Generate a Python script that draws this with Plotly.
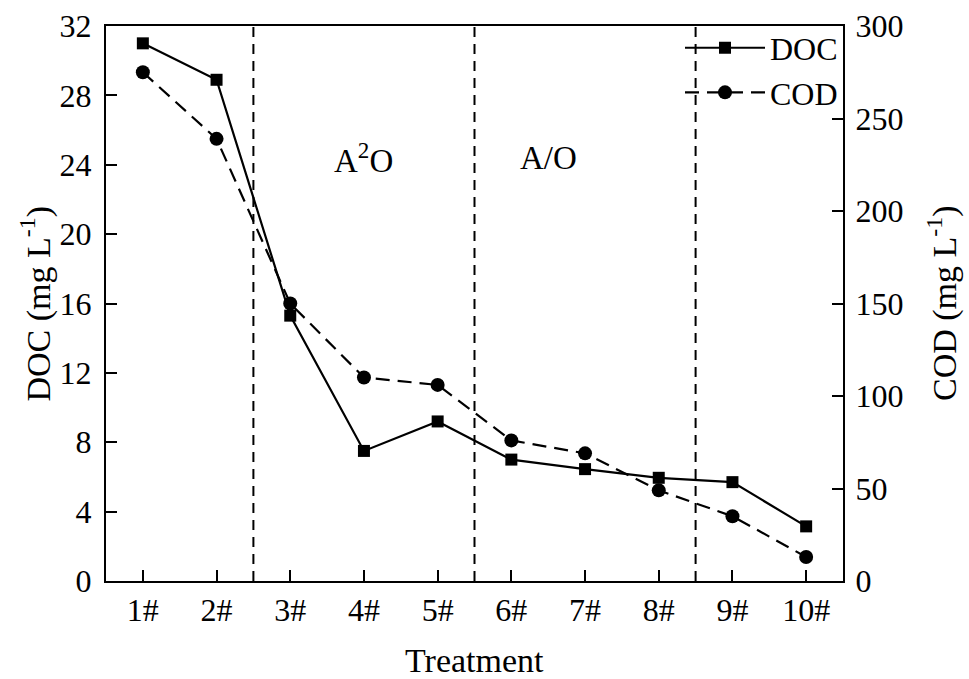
import plotly.graph_objects as go

categories = ["1#", "2#", "3#", "4#", "5#", "6#", "7#", "8#", "9#", "10#"]
positions = [1, 2, 3, 4, 5, 6, 7, 8, 9, 10]
doc_values = [31.0, 28.9, 15.3, 7.5, 9.2, 7.0, 6.45, 5.95, 5.7, 3.15]
cod_values = [275, 239, 150, 110, 106, 76, 69, 49, 35, 13]
dividers = [2.5, 5.5, 8.5]
stage_labels = ["A<sup>2</sup>O", "A/O"]
stage_x = [4, 6.5]
stage_y = [24.4, 24.4]
doc_ticks = [0, 4, 8, 12, 16, 20, 24, 28, 32]
cod_ticks = [0, 50, 100, 150, 200, 250, 300]

FONT = "Liberation Serif, Times New Roman, serif"

fig = go.Figure()
fig.add_trace(go.Scatter(
    x=positions, y=doc_values, name="DOC", mode="lines+markers",
    line=dict(color="black", width=2.2),
    marker=dict(symbol="square", size=12, color="black"),
    yaxis="y",
))
fig.add_trace(go.Scatter(
    x=positions, y=cod_values, name="COD", mode="lines+markers",
    line=dict(color="black", width=2.2, dash="14px,8px"),
    marker=dict(symbol="circle", size=14, color="black"),
    yaxis="y2",
))

for d in dividers:
    fig.add_shape(type="line", xref="x", yref="paper", x0=d, x1=d, y0=0, y1=1,
                  line=dict(color="black", width=2, dash="10px,7px"))

for t, xv, yv in zip(stage_labels, stage_x, stage_y):
    fig.add_annotation(x=xv, y=yv, xref="x", yref="y", text=t, showarrow=False,
                       xanchor="center", yanchor="middle",
                       font=dict(family=FONT, size=33, color="black"))

# axis titles
fig.add_annotation(x=-0.095, y=0.5, xref="paper", yref="paper", textangle=-90,
                   xanchor="center", yanchor="middle",
                   text="DOC (mg L<sup>-1</sup>)", showarrow=False,
                   font=dict(family=FONT, size=34, color="black"))
fig.add_annotation(x=1.135, y=0.5, xref="paper", yref="paper", textangle=-90,
                   xanchor="center", yanchor="middle",
                   text="COD (mg L<sup>-1</sup>)", showarrow=False,
                   font=dict(family=FONT, size=34, color="black"))
fig.add_annotation(x=0.5, y=-0.143, xref="paper", yref="paper",
                   xanchor="center", yanchor="middle",
                   text="Treatment", showarrow=False,
                   font=dict(family=FONT, size=34, color="black"))

fig.update_layout(
    width=969, height=679,
    margin=dict(l=106, r=126, t=26, b=98),
    paper_bgcolor="white", plot_bgcolor="white",
    font=dict(family=FONT, size=32, color="black"),
    showlegend=True,
    legend=dict(x=1, xanchor="right", y=1.01, yanchor="top",
                bgcolor="rgba(0,0,0,0)", font=dict(size=32),
                itemwidth=80, tracegroupgap=0),
    xaxis=dict(
        range=[0.5, 10.5], tickmode="array", tickvals=positions, ticktext=categories,
        ticks="inside", ticklen=11, tickwidth=2, tickcolor="black",
        showline=True, linecolor="black", linewidth=2, mirror=True,
        showgrid=False, zeroline=False, automargin=False,
    ),
    yaxis=dict(
        range=[0, 32], tickmode="array", tickvals=doc_ticks,
        ticks="inside", ticklen=11, tickwidth=2, tickcolor="black",
        showline=True, linecolor="black", linewidth=2,
        showgrid=False, zeroline=False, automargin=False, ticklabelstandoff=6,
    ),
    yaxis2=dict(
        range=[0, 300], tickmode="array", tickvals=cod_ticks,
        overlaying="y", side="right",
        ticks="inside", ticklen=11, tickwidth=2, tickcolor="black",
        showline=True, linecolor="black", linewidth=2,
        showgrid=False, zeroline=False, automargin=False, ticklabelstandoff=4,
    ),
)

fig.write_html("out.html", config={"displayModeBar": False},
               post_script="document.body.style.margin='0';")
